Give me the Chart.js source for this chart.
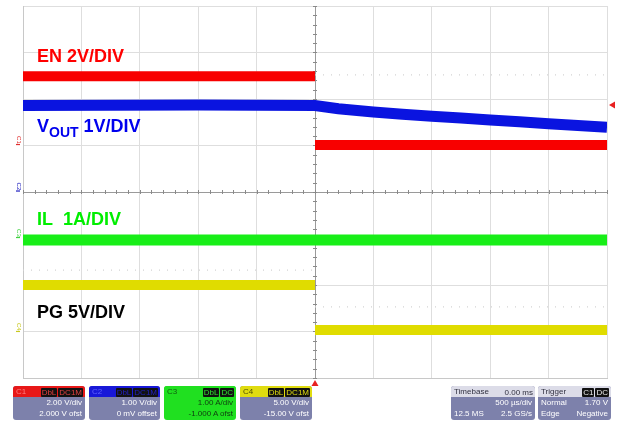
<!DOCTYPE html>
<html>
<head>
<meta charset="utf-8">
<script src="https://cdn.jsdelivr.net/npm/chart.js@4.4.1/dist/chart.umd.min.js"></script>
<style>
  html, body { margin: 0; padding: 0; background: #fff; }
  #wrap { position: relative; width: 620px; height: 421px; overflow: hidden; }
  canvas { position: absolute; left: 0; top: 0; }
  .box { position: absolute; top: 386px; height: 34px; border-radius: 3px; background: #7d81ab;
         font: 8px "Liberation Sans", Arial, sans-serif; color: #fff; overflow: hidden; }
  .hd { height: 11px; line-height: 11px; padding: 0 2px; position: relative; }
  .hd .nm { position: absolute; left: 3px; top: 0; }
  .hd .bd { position: absolute; right: 2px; top: 1px; }
  .bd span { display: inline-block; background: #111; padding: 0 1px; height: 9px; line-height: 9px; margin-left: 1px; border-radius: 1px; }
  .ln { text-align: right; padding-right: 3px; height: 11px; line-height: 11px; }
  .ln2 { display: flex; justify-content: space-between; padding: 0 3px; height: 11px; line-height: 11px; }
</style>
</head>
<body>
<div id="wrap">
  <canvas id="scope" width="620" height="421"></canvas>
</div>
<script>
// screen is 10 x 8 divisions, time in divisions (500 us/div), amplitude in divisions
const X_DIVS = [-5, -4, -3, -2, -1, 0, 1, 2, 3, 4, 5];
const Y_DIVS = [-4, -3, -2, -1, 0, 1, 2, 3, 4];

const enTime = [-5, 0, 0, 0, 5];
const enLevel = [2.49, 2.49, null, 1.01, 1.01];

const voutTime = [-5, -2, 0, 0.4, 1, 1.5, 2, 2.5, 3, 3.5, 4, 4.5, 5];
const voutLevel = [1.86, 1.87, 1.86, 1.79, 1.72, 1.67, 1.63, 1.59, 1.55, 1.51, 1.47, 1.43, 1.39];

const ilTime = [-5, 5];
const ilLevel = [-1.03, -1.03];

const pgTime = [-5, 0, 0, 0, 5];
const pgLevel = [-2.0, -2.0, null, -2.97, -2.97];

// faint persistence traces
const ghostTime = [[0, 5], [0, 5], [-5, 0]];
const ghostLevel = [[2.52, 2.52], [-2.47, -2.47], [-1.68, -1.68]];

const LABELS = [
  { text: "EN 2V/DIV", color: "#ff0000", x: -4.76, y: 2.80 },
  { text: "V", sub: "OUT", rest: " 1V/DIV", color: "#0000ee", x: -4.76, y: 1.29 },
  { text: "IL  1A/DIV", color: "#00ee00", x: -4.76, y: -0.71 },
  { text: "PG 5V/DIV", color: "#000000", x: -4.76, y: -2.71 },
];

const MARKERS = [
  { name: "C1", color: "#e03030", y: 1.12 },
  { name: "C2", color: "#2020c0", y: 0.12 },
  { name: "C3", color: "#40d040", y: -0.88 },
  { name: "C4", color: "#c8c820", y: -2.9 },
];
const TRIG_LEVEL = 1.87;

function pts(xs, ys) {
  return xs.map((x, i) => ({ x: x, y: ys[i] }));
}

const traces = [
  { data: pts(enTime, enLevel), borderColor: "#f80000", borderWidth: 10 },
  { data: pts(voutTime, voutLevel), borderColor: "#0a14e0", borderWidth: 11 },
  { data: pts(ilTime, ilLevel), borderColor: "#18ee18", borderWidth: 11 },
  { data: pts(pgTime, pgLevel), borderColor: "#e0dc00", borderWidth: 10 },
].map((d) => Object.assign(d, { pointRadius: 0, tension: 0, spanGaps: false, order: 1 }));

const ghosts = ghostTime.map((t, i) => ({
  data: pts(t, ghostLevel[i]),
  borderColor: "#d4d4d4",
  borderWidth: 1.2,
  borderDash: [1, 7],
  pointRadius: 0,
  order: 5,
}));

const scopeDecor = {
  id: "scopeDecor",
  beforeDatasetsDraw(chart) {
    const { ctx, scales: { x, y } } = chart;
    ctx.save();
    // minor ticks on the centre cross
    ctx.strokeStyle = "#8a8a8a";
    ctx.lineWidth = 1;
    const cx = x.getPixelForValue(0), cy = y.getPixelForValue(0);
    for (let v = -5; v <= 5.001; v += 0.2) {
      const px = Math.round(x.getPixelForValue(v)) + 0.5;
      ctx.beginPath(); ctx.moveTo(px, cy - 2); ctx.lineTo(px, cy + 2); ctx.stroke();
    }
    for (let v = -4; v <= 4.001; v += 0.2) {
      const py = Math.round(y.getPixelForValue(v)) + 0.5;
      ctx.beginPath(); ctx.moveTo(cx - 2, py); ctx.lineTo(cx + 2, py); ctx.stroke();
    }
    ctx.restore();
  },
  afterDraw(chart) {
    const { ctx, scales: { x, y }, chartArea: a } = chart;
    ctx.save();
    ctx.textBaseline = "alphabetic";
    LABELS.forEach((l) => {
      const px = x.getPixelForValue(l.x), py = y.getPixelForValue(l.y);
      ctx.fillStyle = l.color;
      ctx.font = "bold 18px 'Liberation Sans', Arial, sans-serif";
      ctx.fillText(l.text, px, py);
      if (l.sub) {
        let w = ctx.measureText(l.text).width;
        ctx.font = "bold 14px 'Liberation Sans', Arial, sans-serif";
        ctx.fillText(l.sub, px + w, py + 5);
        w += ctx.measureText(l.sub).width;
        ctx.font = "bold 18px 'Liberation Sans', Arial, sans-serif";
        ctx.fillText(l.rest, px + w, py);
      }
    });
    // channel ground markers on the left
    ctx.font = "6px 'Liberation Sans', Arial, sans-serif";
    MARKERS.forEach((m) => {
      const py = y.getPixelForValue(m.y);
      ctx.save();
      ctx.translate(a.left - 6, py);
      ctx.rotate(Math.PI / 2);
      ctx.fillStyle = m.color;
      ctx.textAlign = "center";
      ctx.fillText(m.name, 0, 0);
      ctx.restore();
      ctx.fillStyle = m.color;
      ctx.fillRect(a.left - 7, py + 4, 4, 1.2);
    });
    // trigger position and level
    ctx.fillStyle = "#e82020";
    const tx = x.getPixelForValue(0);
    ctx.beginPath();
    ctx.moveTo(tx - 3.5, a.bottom + 8); ctx.lineTo(tx + 3.5, a.bottom + 8); ctx.lineTo(tx, a.bottom + 2);
    ctx.fill();
    const ty = y.getPixelForValue(TRIG_LEVEL);
    ctx.beginPath();
    ctx.moveTo(a.right + 2, ty); ctx.lineTo(a.right + 8, ty - 3.5); ctx.lineTo(a.right + 8, ty + 3.5);
    ctx.fill();
    ctx.restore();
  },
};

new Chart(document.getElementById("scope"), {
  type: "line",
  data: { datasets: [...traces, ...ghosts] },
  options: {
    responsive: false,
    animation: false,
    events: [],
    layout: { padding: { left: 23, right: 13, top: 6, bottom: 43 } },
    plugins: { legend: { display: false }, tooltip: { enabled: false } },
    scales: {
      x: {
        type: "linear", min: -5, max: 5,
        afterBuildTicks: (s) => { s.ticks = X_DIVS.map((v) => ({ value: v })); },
        ticks: { display: false },
        grid: { drawTicks: false, color: (c) => (c.tick && c.tick.value === 0 ? "#9a9a9a" : "#dedede"), lineWidth: 1 },
        border: { display: true, color: "#c8c8c8" },
      },
      y: {
        type: "linear", min: -4, max: 4,
        afterBuildTicks: (s) => { s.ticks = Y_DIVS.map((v) => ({ value: v })); },
        ticks: { display: false },
        grid: { drawTicks: false, color: (c) => (c.tick && c.tick.value === 0 ? "#9a9a9a" : "#dedede"), lineWidth: 1 },
        border: { display: true, color: "#c8c8c8" },
      },
    },
  },
  plugins: [scopeDecor],
});

// readout boxes under the screen
const BOXES = [
  { left: 13, width: 72, name: "C1", head: "#e81818", nameColor: "#ff8080", badges: ["DbL", "DC1M"], badgeColor: "#e04040", lines: [["", "2.00 V/div"], ["", "2.000 V ofst"]] },
  { left: 89, width: 71, name: "C2", head: "#1818d8", nameColor: "#6060ff", badges: ["DbL", "DC1M"], badgeColor: "#2020c0", lines: [["", "1.00 V/div"], ["", "0 mV offset"]] },
  { left: 164, width: 72, name: "C3", head: "#20e020", body: "#20e020", nameColor: "#106010", text: "#104010", badges: ["DbL", "DC"], badgeColor: "#30e030", lines: [["", "1.00 A/div"], ["", "-1.000 A ofst"]] },
  { left: 240, width: 72, name: "C4", head: "#e0dc10", nameColor: "#505000", badges: ["DbL", "DC1M"], badgeColor: "#e0dc10", lines: [["", "5.00 V/div"], ["", "-15.00 V ofst"]] },
  { left: 451, width: 84, name: "Timebase", head: "#dcdce8", nameColor: "#303040", right: "0.00 ms", lines: [["", "500 \u00b5s/div"], ["12.5 MS", "2.5 GS/s"]] },
  { left: 538, width: 73, name: "Trigger", head: "#dcdce8", nameColor: "#303040", badges: ["C1", "DC"], badgeColor: "#e8e8e8", lines: [["Normal", "1.70 V"], ["Edge", "Negative"]] },
];

const wrap = document.getElementById("wrap");
BOXES.forEach((b) => {
  const el = document.createElement("div");
  el.className = "box";
  el.style.left = b.left + "px";
  el.style.width = b.width + "px";
  if (b.body) el.style.background = b.body;
  if (b.text) el.style.color = b.text;
  let hd = `<div class="hd" style="background:${b.head}"><span class="nm" style="color:${b.nameColor}">${b.name}</span>`;
  if (b.badges) hd += `<span class="bd">${b.badges.map((t) => `<span style="color:${b.badgeColor}">${t}</span>`).join("")}</span>`;
  if (b.right) hd += `<span class="bd" style="color:${b.nameColor}">${b.right}</span>`;
  hd += "</div>";
  const body = b.lines
    .map(([l, r]) => (l ? `<div class="ln2"><span>${l}</span><span>${r}</span></div>` : `<div class="ln">${r}</div>`))
    .join("");
  el.innerHTML = hd + body;
  wrap.appendChild(el);
});
</script>
</body>
</html>
